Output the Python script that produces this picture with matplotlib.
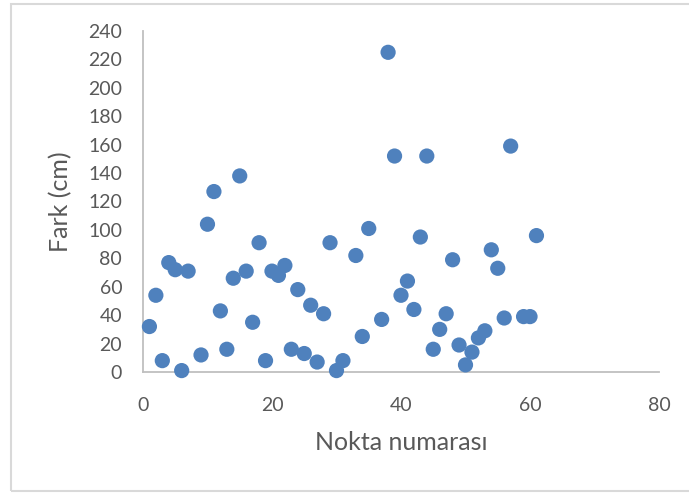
import matplotlib
matplotlib.use("Agg")
import matplotlib.pyplot as plt
from matplotlib.patches import Rectangle

plt.rcParams['font.family'] = ['Lato', 'DejaVu Sans']

# point number vs. difference in cm
nokta = [1, 2, 3, 4, 5, 6, 7, 9, 10, 11, 12, 13, 14, 15, 16, 17, 18, 19, 20,
         21, 22, 23, 24, 25, 26, 27, 28, 29, 30, 31, 33, 34, 35, 37, 38, 39,
         40, 41, 42, 43, 44, 45, 46, 47, 48, 49, 50, 51, 52, 53, 54, 55, 56,
         57, 59, 60, 61]
fark = [32, 54, 8, 77, 72, 1, 71, 12, 104, 127, 43, 16, 66, 138, 71, 35, 91,
        8, 71, 68, 75, 16, 58, 13, 47, 7, 41, 91, 1, 8, 82, 25, 101, 37, 225,
        152, 54, 64, 44, 95, 152, 16, 30, 41, 79, 19, 5, 14, 24, 29, 86, 73,
        38, 159, 39, 39, 96]

xticks = [0, 20, 40, 60, 80]
yticks = list(range(0, 241, 20))

txt = '#595959'
fig = plt.figure(figsize=(6.89, 4.96), dpi=100)
ax = fig.add_axes([0.2075, 0.25, 0.749, 0.6875])

ax.scatter(nokta, fark, s=120, color='#4f81bd', edgecolors='none', zorder=3,
           clip_on=False)

ax.set_xlim(0, 80)
ax.set_ylim(0, 240)
ax.set_xticks(xticks)
ax.set_yticks(yticks)
ax.tick_params(axis='both', length=0, labelsize=14, labelcolor=txt)
ax.tick_params(axis='y', pad=15)
ax.tick_params(axis='x', pad=18)

for side in ['top', 'right']:
    ax.spines[side].set_visible(False)
for side in ['left', 'bottom']:
    ax.spines[side].set_color('#bfbfbf')
    ax.spines[side].set_linewidth(1.3)

ax.set_xlabel('Nokta numarası', fontsize=18, color=txt)
ax.set_ylabel('Fark (cm)', fontsize=18, color=txt)
ax.xaxis.set_label_coords(0.5, -0.172)
ax.yaxis.set_label_coords(-0.136, 0.5)

# outer chart border (runs off the right edge)
fig.patches.append(Rectangle((11 / 689, 5 / 496), 700 / 689, 487 / 496,
                             transform=fig.transFigure, fill=False,
                             edgecolor='#d9d9d9', linewidth=1.5))

fig.savefig('out.png', dpi=100)
